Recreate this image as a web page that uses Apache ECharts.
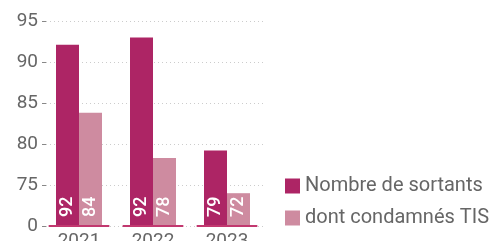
<!DOCTYPE html>
<html><head><meta charset="utf-8">
<script src="https://cdn.jsdelivr.net/npm/echarts@6/dist/echarts.min.js"></script>
<style>html,body{margin:0;padding:0;background:#fff}#c{width:499px;height:241px}</style>
</head><body><div id="c"></div>
<script>
const categories = ['2021', '2022', '2023'];
const seriesNames = ['Nombre de sortants', 'dont condamnés TIS'];
const sortantsBars = [92.1, 93.0, 79.2];
const tisBars = [83.8, 78.3, 74.0];
const sortantsLabels = [92, 92, 79];
const tisLabels = [84, 78, 72];
const yTicks = [70, 75, 80, 85, 90, 95];
const yTickLabels = ['0', '75', '80', '85', '90', '95'];

const chart = echarts.init(document.getElementById('c'), null, {renderer: 'canvas'});
const font = 'Roboto, "DejaVu Sans", sans-serif';
function lbl(arr) {
  return {
    show: true, position: 'insideBottom', rotate: 90, align: 'left', verticalAlign: 'middle',
    distance: 9, color: '#fff', fontSize: 18, fontFamily: font, fontWeight: 500,
    formatter: p => String(arr[p.dataIndex])
  };
}
chart.setOption({
  animation: false,
  grid: {left: 42, right: 235, top: 21, bottom: 15, outerBoundsMode: 'none', containLabel: false},
  legend: {
    orient: 'vertical', left: 285, top: 176, itemGap: 12, padding: 0,
    itemWidth: 15, itemHeight: 15, icon: 'rect',
    textStyle: {fontSize: 20, color: '#666', fontFamily: font},
    data: seriesNames
  },
  xAxis: {
    type: 'category', data: categories,
    axisLine: {show: false}, axisTick: {show: false},
    axisLabel: {color: '#666', fontSize: 19, fontFamily: font, margin: 6}
  },
  yAxis: {
    type: 'value', min: 70, max: 95, interval: 5,
    axisLine: {show: false},
    axisTick: {show: true, inside: true, length: 4, lineStyle: {color: '#888'}},
    axisLabel: {color: '#666', fontSize: 19, fontFamily: font, margin: 4,
      formatter: v => yTickLabels[yTicks.indexOf(v)]},
    splitLine: {show: true, lineStyle: {color: '#ccc', type: [1, 3], width: 1}}
  },
  series: [
    {name: seriesNames[0], type: 'bar', data: sortantsBars, barWidth: 23, barGap: '0%',
      itemStyle: {color: '#AD2565'}, label: lbl(sortantsLabels)},
    {name: seriesNames[1], type: 'bar', data: tisBars, barWidth: 23,
      itemStyle: {color: '#CE8BA0'}, label: lbl(tisLabels)},
    {type: 'custom', data: categories.map((c, i) => [i, 70]), silent: true, z: 5,
      renderItem: function (params, api) {
        const p = api.coord([api.value(0), 70]);
        const bw = api.size([1, 0])[0] * 0.82;
        return {type: 'line', shape: {x1: p[0] - bw / 2, y1: p[1], x2: p[0] + bw / 2, y2: p[1]},
          style: {stroke: '#C2386F', lineWidth: 2}};
      }}
  ]
});
</script></body></html>
